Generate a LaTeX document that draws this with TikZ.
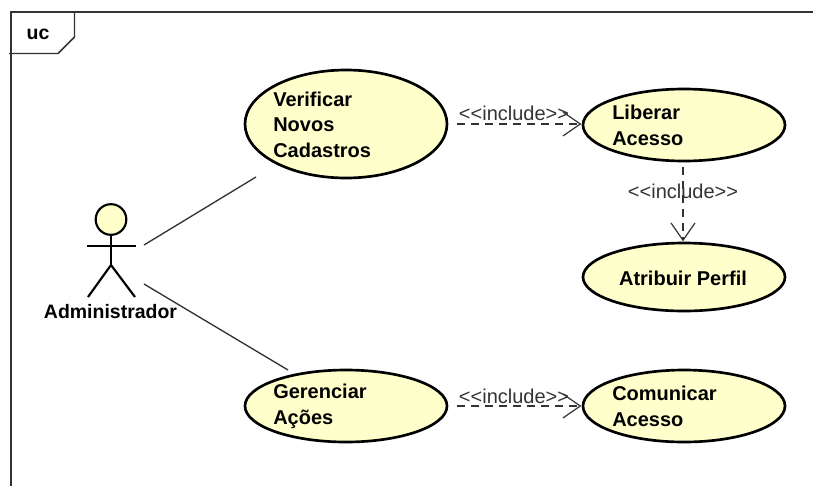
\documentclass[tikz,border=0pt]{standalone}
\usepackage{fontspec}
\setmainfont{Liberation Sans}
\usetikzlibrary{arrows.meta,shapes.geometric}
\definecolor{ucfill}{HTML}{FFFFCC}
\definecolor{linegray}{HTML}{333333}
\newcommand{\incl}{{<}\kern0pt{<}include{>}\kern0pt{>}}
\tikzset{
  usecase/.style={ellipse,draw=black,line width=2pt,fill=ucfill,inner sep=0pt,outer sep=0pt,minimum width=151.5pt},
  uctext/.style={anchor=west,align=left,inner sep=0pt,font=\fontsize{15}{19.2}\selectfont\bfseries},
  inc/.style={draw=linegray,line width=0.9pt,dash pattern=on 6pt off 4.5pt,-{Straight Barb[length=13pt,width=18pt,line width=0.9pt]},shorten >=0.5pt},
  inclabel/.style={inner sep=0pt,text=linegray,font=\fontsize{15}{17}\selectfont},
  assoc/.style={draw=linegray,line width=1pt},
  frameline/.style={draw=linegray,line width=1.1pt},
  actorline/.style={draw=black,line width=1.6pt}
}
\begin{document}
\begin{tikzpicture}[x=0.75pt,y=-0.75pt]
\useasboundingbox (0,0) rectangle (813,486);
% frame
\draw[frameline] (813,12) -- (11,12) -- (11,486);
\draw[frameline] (9,53.5) -- (58,53.5) -- (74.5,37) -- (74.5,12);
\node[anchor=center,inner sep=0pt,font=\fontsize{14.6}{17}\selectfont\bfseries] (frametitle) at (38,34.5) {uc};
% use cases
\node[usecase,minimum height=81pt] (verificar) at (346,124) {};
\node[usecase,minimum height=54pt] (liberar) at (684,125) {};
\node[usecase,minimum height=51pt] (atribuir) at (684,277) {};
\node[usecase,minimum height=54pt] (gerenciar) at (346,406) {};
\node[usecase,minimum height=54pt] (comunicar) at (684,406) {};
\node[uctext] (tv) at (273,124.5) {Verificar\\Novos\\Cadastros};
\node[uctext] (tl) at (612,125.5) {Liberar\\Acesso};
\node[inner sep=0pt,font=\fontsize{15}{17}\selectfont\bfseries] (ta) at (683,278) {Atribuir Perfil};
\node[uctext] (tg) at (273,406.5) {Gerenciar\\Ações};
\node[uctext] (tc) at (612,406.5) {Comunicar\\Acesso};
% include
\coordinate (v1) at (457,124);
\coordinate (l1) at (582,124);
\coordinate (l2) at (683,167);
\coordinate (a2) at (683,242);
\coordinate (g1) at (457,406);
\coordinate (c1) at (582,406);
\draw[inc] (v1) -- (l1);
\draw[inc] (l2) -- (a2);
\draw[inc] (g1) -- (c1);
\node[inclabel] (i1) at (514,113) {\incl};
\node[inclabel] (i2) at (683,191) {\incl};
\node[inclabel] (i3) at (514,396) {\incl};
% actor
\node[circle,draw=black,line width=1.6pt,fill=ucfill,minimum size=23pt,inner sep=0pt,outer sep=0pt] (head) at (111,219.5) {};
\coordinate (hip) at (111,265);
\coordinate (armL) at (87,246);
\coordinate (armR) at (136,246);
\coordinate (footL) at (88,297);
\coordinate (footR) at (135,297);
\draw[actorline] (head) -- (hip);
\draw[actorline] (armL) -- (armR);
\draw[actorline] (footL) -- (hip) -- (footR);
\node[inner sep=0pt,font=\fontsize{14.6}{17}\selectfont\bfseries] (actorname) at (110.5,312) {Administrador};
% associations
\coordinate (as1) at (144,245);
\coordinate (ae1) at (256,177);
\coordinate (as2) at (144,284);
\coordinate (ae2) at (288,370);
\draw[assoc] (as1) -- (ae1);
\draw[assoc] (as2) -- (ae2);
\end{tikzpicture}
\end{document}
